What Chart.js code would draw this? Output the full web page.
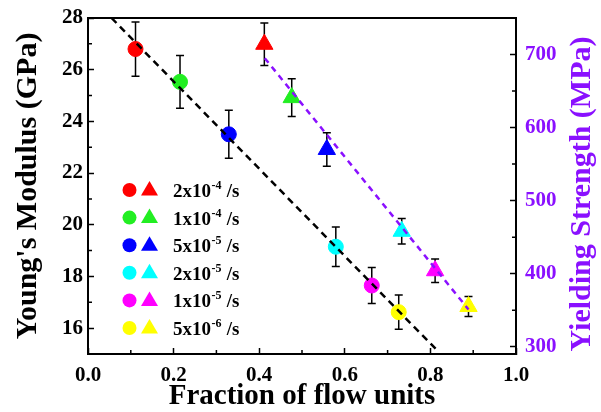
<!DOCTYPE html>
<html lang="en">
<head>
<meta charset="UTF-8">
<title>Young's Modulus and Yielding Strength</title>
<style>
    html, body { margin: 0; padding: 0; background: #fff; }
    #box { width: 601px; height: 412px; }
</style>
</head>
<body>
<div id="box"><canvas id="myChart" width="601" height="412"></canvas></div>

<script src="https://cdn.jsdelivr.net/npm/chart.js"></script>
<script>
    // strain rates (legend) and their colours
    const rateBase = ['2x10', '1x10', '5x10', '2x10', '1x10', '5x10'];
    const rateExp = ['-4', '-4', '-5', '-5', '-5', '-6'];
    const rateColors = ['#ff0000', '#22ee22', '#0000ff', '#00ffff', '#ff00ff', '#ffff00'];

    // Young's modulus (circles, left axis)
    const modulusX = [0.111, 0.215, 0.329, 0.579, 0.663, 0.726];
    const modulusY = [26.8, 25.53, 23.5, 19.15, 17.65, 16.62];
    const modulusErr = [1.05, 1.02, 0.93, 0.76, 0.70, 0.66];

    // yielding strength (triangles, right axis)
    const strengthX = [0.412, 0.476, 0.558, 0.733, 0.811, 0.889];
    const strengthY = [714, 641, 570, 458, 404, 355];
    const strengthErr = [29, 26, 23, 17.5, 16, 13.6];

    // linear fits
    const modulusFitX = [0.055, 0.82];
    const modulusFitY = [28, 15.07];
    const strengthFitX = [0.413, 0.889];
    const strengthFitY = [695, 351];

    // ticks
    const xTicks = [0, 0.2, 0.4, 0.6, 0.8, 1.0];
    const xMinor = [0.1, 0.3, 0.5, 0.7, 0.9];
    const yTicks = [16, 18, 20, 22, 24, 26, 28];
    const yMinor = [17, 19, 21, 23, 25, 27];
    const y2Ticks = [300, 400, 500, 600, 700];
    const y2Minor = [350, 450, 550, 650];

    const purple = '#8a10ff';
    const serif = '"Liberation Serif", "Times New Roman", serif';

    function pts(xs, ys) {
        return xs.map((x, i) => ({ x: x, y: ys[i] }));
    }

    // error bars, drawn under the markers
    const errorBars = {
        id: 'errorBars',
        beforeDatasetsDraw(chart) {
            const ctx = chart.ctx;
            chart.data.datasets.forEach((ds, di) => {
                if (!ds.err) return;
                const meta = chart.getDatasetMeta(di);
                const scale = chart.scales[ds.yAxisID];
                ctx.save();
                ctx.strokeStyle = '#000';
                ctx.lineWidth = 1.5;
                meta.data.forEach((el, i) => {
                    const v = ds.data[i].y;
                    const top = scale.getPixelForValue(v + ds.err[i]);
                    const bot = scale.getPixelForValue(v - ds.err[i]);
                    ctx.beginPath();
                    ctx.moveTo(el.x, top);
                    ctx.lineTo(el.x, bot);
                    ctx.moveTo(el.x - 4, top);
                    ctx.lineTo(el.x + 4, top);
                    ctx.moveTo(el.x - 4, bot);
                    ctx.lineTo(el.x + 4, bot);
                    ctx.stroke();
                });
                ctx.restore();
            });
        }
    };

    // frame top line, minor ticks, right title, legend
    const extras = {
        id: 'extras',
        afterDraw(chart) {
            const ctx = chart.ctx;
            const a = chart.chartArea;
            const sx = chart.scales.x, sy = chart.scales.y, sy2 = chart.scales.y2;
            ctx.save();
            ctx.strokeStyle = '#000';
            ctx.lineWidth = 2;
            ctx.beginPath();
            ctx.moveTo(a.left, a.top);
            ctx.lineTo(a.right, a.top);
            ctx.stroke();

            ctx.lineWidth = 1.5;
            ctx.beginPath();
            xMinor.forEach(v => {
                const px = sx.getPixelForValue(v);
                ctx.moveTo(px, a.bottom);
                ctx.lineTo(px, a.bottom - 4);
            });
            yMinor.forEach(v => {
                const py = sy.getPixelForValue(v);
                ctx.moveTo(a.left, py);
                ctx.lineTo(a.left + 4, py);
            });
            y2Minor.forEach(v => {
                const py = sy2.getPixelForValue(v);
                ctx.moveTo(a.right, py);
                ctx.lineTo(a.right - 4, py);
            });
            ctx.stroke();

            // right axis title, reading upwards
            ctx.fillStyle = purple;
            ctx.font = 'bold 30px ' + serif;
            ctx.textAlign = 'center';
            ctx.textBaseline = 'middle';
            ctx.translate(582, 194);
            ctx.rotate(-Math.PI / 2);
            ctx.fillText('Yielding Strength (MPa)', 0, 0);
            ctx.restore();

            // legend
            ctx.save();
            ctx.textAlign = 'left';
            ctx.textBaseline = 'alphabetic';
            rateBase.forEach((b, i) => {
                const y = 190 + i * 27.6;
                ctx.fillStyle = rateColors[i];
                ctx.beginPath();
                ctx.arc(129.5, y, 7, 0, Math.PI * 2);
                ctx.fill();
                ctx.beginPath();
                ctx.moveTo(149.5, y - 9);
                ctx.lineTo(158, y + 5.5);
                ctx.lineTo(141, y + 5.5);
                ctx.closePath();
                ctx.fill();

                ctx.fillStyle = '#000';
                ctx.font = 'bold 19px ' + serif;
                let x = 173;
                ctx.fillText(b, x, y + 7);
                x += ctx.measureText(b).width;
                ctx.font = 'bold 12px ' + serif;
                ctx.fillText(rateExp[i], x + 0.5, y - 1);
                x += ctx.measureText(rateExp[i]).width + 1;
                ctx.font = 'bold 19px ' + serif;
                ctx.fillText(' /s', x, y + 7);
            });
            ctx.restore();
        }
    };

    const tickFont = { family: serif, size: 21, weight: 'bold' };

    const config = {
        type: 'scatter',
        data: {
            datasets: [
                {
                    data: pts(modulusFitX, modulusFitY),
                    yAxisID: 'y',
                    showLine: true,
                    borderColor: '#000',
                    borderWidth: 2.5,
                    borderDash: [7, 5],
                    pointRadius: 0,
                    order: 0
                },
                {
                    data: pts(strengthFitX, strengthFitY),
                    yAxisID: 'y2',
                    showLine: true,
                    borderColor: purple,
                    borderWidth: 2.5,
                    borderDash: [6, 5],
                    pointRadius: 0,
                    order: 0
                },
                {
                    data: pts(modulusX, modulusY),
                    err: modulusErr,
                    yAxisID: 'y',
                    pointStyle: 'circle',
                    pointRadius: 7.5,
                    pointBackgroundColor: rateColors,
                    pointBorderColor: rateColors,
                    pointBorderWidth: 1,
                    order: 1
                },
                {
                    data: pts(strengthX, strengthY),
                    err: strengthErr,
                    yAxisID: 'y2',
                    pointStyle: 'triangle',
                    pointRadius: 10,
                    pointBackgroundColor: rateColors,
                    pointBorderColor: rateColors,
                    pointBorderWidth: 1,
                    order: 1
                }
            ]
        },
        options: {
            responsive: false,
            animation: false,
            devicePixelRatio: 1,
            layout: { padding: { top: 18, left: 0, right: 0, bottom: 0 } },
            plugins: {
                legend: { display: false },
                tooltip: { enabled: false }
            },
            scales: {
                x: {
                    type: 'linear',
                    position: 'bottom',
                    min: 0,
                    max: 1,
                    afterBuildTicks: s => { s.ticks = xTicks.map(v => ({ value: v })); },
                    afterFit: s => { s.height = 58; s.paddingLeft = 0; s.paddingRight = 0; },
                    border: { color: '#000', width: 2 },
                    grid: { drawOnChartArea: false, tickLength: -6, tickColor: '#000', tickWidth: 1.5 },
                    ticks: {
                        color: '#000',
                        font: tickFont,
                        padding: 15,
                        maxRotation: 0,
                        callback: v => v.toFixed(1)
                    },
                    title: {
                        display: true,
                        text: 'Fraction of flow units',
                        color: '#000',
                        font: { family: serif, size: 29, weight: 'bold', lineHeight: 1 },
                        padding: { top: 0, bottom: 0.5 }
                    }
                },
                y: {
                    type: 'linear',
                    position: 'left',
                    min: 15,
                    max: 28,
                    afterBuildTicks: s => { s.ticks = yTicks.map(v => ({ value: v })); },
                    afterFit: s => { s.width = 88; s.paddingTop = 0; s.paddingBottom = 0; },
                    border: { color: '#000', width: 2 },
                    grid: { drawOnChartArea: false, tickLength: -6, tickColor: '#000', tickWidth: 1.5 },
                    ticks: { color: '#000', font: tickFont, padding: 11 },
                    title: {
                        display: true,
                        text: "Young's Modulus (GPa)",
                        color: '#000',
                        font: { family: serif, size: 30, weight: 'bold', lineHeight: 1 },
                        padding: { top: 13, bottom: 0 }
                    }
                },
                y2: {
                    type: 'linear',
                    position: 'right',
                    min: 290,
                    max: 750,
                    afterBuildTicks: s => { s.ticks = y2Ticks.map(v => ({ value: v })); },
                    afterFit: s => { s.width = 85; s.paddingTop = 0; s.paddingBottom = 0; },
                    border: { color: '#000', width: 2 },
                    grid: { drawOnChartArea: false, tickLength: -6, tickColor: '#000', tickWidth: 1.5 },
                    ticks: { color: purple, font: tickFont, padding: 15 }
                }
            }
        },
        plugins: [errorBars, extras]
    };

    const myChart = new Chart(document.getElementById('myChart'), config);
</script>
</body>
</html>
